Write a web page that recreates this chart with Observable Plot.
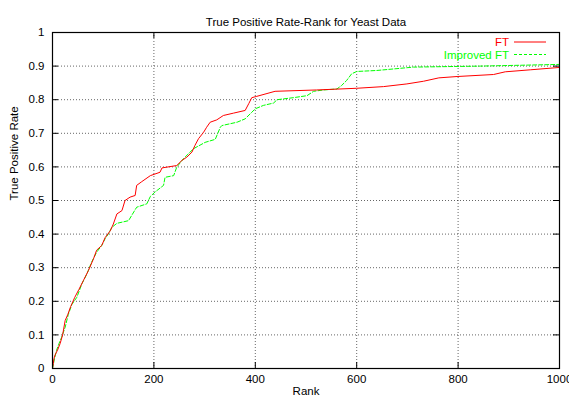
<!DOCTYPE html>
<html>
<head>
<meta charset="utf-8">
<script src="https://cdn.jsdelivr.net/npm/d3@7"></script>
<script src="https://cdn.jsdelivr.net/npm/@observablehq/plot@0.6"></script>
<style>
  body { margin: 0; background: #fff; }
  #chart svg { font-family: "Liberation Sans", Arial, Helvetica, sans-serif; }
</style>
</head>
<body>
<div id="chart"></div>
<script>
// True positive rate by rank, original FT ranking
const ftRank = [0, 3, 5, 10, 15, 20, 25, 30, 36, 44, 52, 61, 71, 81, 87, 97, 104, 114, 120, 127,
  137, 143, 153, 163, 166, 176, 193, 212, 216, 245, 255, 265, 275, 281, 288, 298, 304, 311, 324,
  337, 357, 380, 387, 393, 403, 439, 521, 600, 653, 699, 732, 762, 798, 870, 893, 943, 1000];
const ftRate = [0, 0.03, 0.04, 0.055, 0.074, 0.1, 0.143, 0.16, 0.185, 0.212, 0.235, 0.262, 0.292,
  0.327, 0.352, 0.366, 0.39, 0.41, 0.43, 0.46, 0.47, 0.5, 0.51, 0.515, 0.545, 0.556, 0.574, 0.584,
  0.597, 0.604, 0.619, 0.629, 0.644, 0.664, 0.684, 0.703, 0.718, 0.733, 0.74, 0.753, 0.76, 0.768,
  0.788, 0.806, 0.81, 0.825, 0.829, 0.834, 0.839, 0.847, 0.855, 0.865, 0.869, 0.875, 0.883, 0.889, 0.896];

// True positive rate by rank, improved FT ranking
const impRank = [0, 4, 8, 13, 18, 25, 31, 38, 48, 58, 68, 77, 87, 97, 104, 110, 117, 127, 150, 156,
  166, 186, 193, 202, 219, 222, 239, 245, 258, 278, 301, 321, 331, 334, 364, 380, 390, 400, 416,
  436, 443, 475, 502, 515, 535, 561, 570, 580, 590, 600, 640, 712, 844, 1000];
const impRate = [0, 0.03, 0.054, 0.075, 0.093, 0.123, 0.16, 0.19, 0.212, 0.252, 0.282, 0.316, 0.346,
  0.366, 0.387, 0.4, 0.42, 0.432, 0.44, 0.455, 0.48, 0.49, 0.512, 0.525, 0.545, 0.569, 0.574, 0.599,
  0.624, 0.654, 0.673, 0.682, 0.718, 0.723, 0.733, 0.743, 0.758, 0.773, 0.783, 0.79, 0.8, 0.806,
  0.812, 0.825, 0.829, 0.832, 0.842, 0.857, 0.877, 0.884, 0.887, 0.897, 0.9, 0.905];

const xTicks = [0, 200, 400, 600, 800, 1000];
const xTickLabels = ["0", "200", "400", "600", "800", "1000"];
const yTicks = [0, 0.1, 0.2, 0.3, 0.4, 0.5, 0.6, 0.7, 0.8, 0.9, 1];
const yTickLabels = ["0", "0.1", "0.2", "0.3", "0.4", "0.5", "0.6", "0.7", "0.8", "0.9", "1"];

const seriesNames = ["FT", "Improved FT"];
const seriesColors = ["#ff0000", "#00ff00"];

const titleText = "True Positive Rate-Rank for Yeast Data";
const xLabel = "Rank";
const yLabel = "True Positive Rate";

const ft = ftRank.map((r, i) => ({rank: r, rate: ftRate[i]}));
const imp = impRank.map((r, i) => ({rank: r, rate: impRate[i]}));

const W = 569, H = 401;
const mL = 52, mR = 10, mT = 32, mB = 33;
const plotW = W - mL - mR, plotH = H - mT - mB;
const tickLen = 6;
const fontSize = 11.5;

const chart = Plot.plot({
  width: W,
  height: H,
  marginLeft: mL,
  marginRight: mR,
  marginTop: mT,
  marginBottom: mB,
  style: {fontSize: `${fontSize}px`, color: "#000", background: "#fff"},
  x: {domain: [0, 1000]},
  y: {domain: [0, 1]},
  marks: [
    // dotted grid
    Plot.gridX(xTicks, {stroke: "#000", strokeOpacity: 0.6, strokeDasharray: "1,2"}),
    Plot.gridY(yTicks, {stroke: "#000", strokeOpacity: 0.6, strokeDasharray: "1,2"}),
    // inward ticks on all four sides
    Plot.tickX(xTicks, {x: d => d, insetTop: plotH - tickLen, stroke: "#000"}),
    Plot.tickX(xTicks, {x: d => d, insetBottom: plotH - tickLen, stroke: "#000"}),
    Plot.tickY(yTicks, {y: d => d, insetRight: plotW - tickLen, stroke: "#000"}),
    Plot.tickY(yTicks, {y: d => d, insetLeft: plotW - tickLen, stroke: "#000"}),
    // tick labels
    Plot.axisX({ticks: xTicks, tickSize: 0, tickPadding: 6, label: null, fontSize,
      tickFormat: d => xTickLabels[xTicks.indexOf(d)]}),
    Plot.axisY({ticks: yTicks, tickSize: 0, tickPadding: 8, label: null, fontSize,
      tickFormat: d => yTickLabels[yTicks.indexOf(d)]}),
    // series
    Plot.line(imp, {x: "rank", y: "rate", stroke: seriesColors[1], strokeWidth: 1, strokeDasharray: "4,2"}),
    Plot.line(ft, {x: "rank", y: "rate", stroke: seriesColors[0], strokeWidth: 1}),
    Plot.frame({stroke: "#000", strokeWidth: 1.2}),
    // title and axis labels
    Plot.text([titleText], {frameAnchor: "top", dy: -15, fontSize}),
    Plot.text([xLabel], {frameAnchor: "bottom", dy: 26, fontSize}),
    Plot.text([yLabel], {frameAnchor: "left", dx: -38, rotate: -90, fontSize})
  ]
});

// key in the upper right corner
const svg = d3.select(chart);
const key = svg.append("g").attr("font-size", fontSize);
seriesNames.forEach((name, i) => {
  const y = mT + 10 + i * 12.5;
  key.append("text")
    .attr("x", 509).attr("y", y).attr("dy", "0.35em")
    .attr("text-anchor", "end").attr("fill", seriesColors[i])
    .text(name);
  key.append("line")
    .attr("x1", 514).attr("x2", 546).attr("y1", y).attr("y2", y)
    .attr("stroke", seriesColors[i]).attr("stroke-width", 1)
    .attr("stroke-dasharray", i === 1 ? "3,2" : null);
});

document.getElementById("chart").append(chart);
</script>
</body>
</html>
